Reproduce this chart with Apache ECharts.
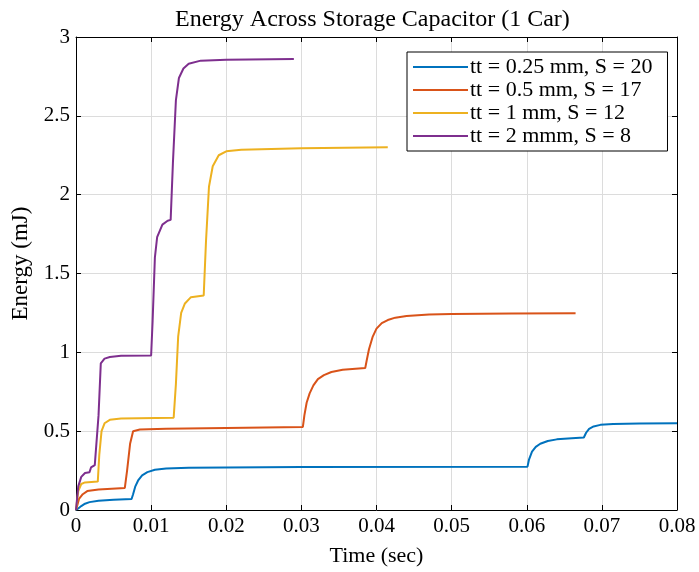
<!DOCTYPE html>
<html>
<head>
<meta charset="utf-8">
<script src="https://cdn.jsdelivr.net/npm/echarts@6/dist/echarts.min.js"></script>
<style>
  html,body{margin:0;padding:0;background:#fff}
  #chart{width:699px;height:572px}
</style>
</head>
<body>
<div id="chart"></div>
<script>
// legend names and colours (MATLAB default order)
var seriesNames = ['tt = 0.25 mm, S = 20', 'tt = 0.5 mm, S = 17', 'tt = 1 mm, S = 12', 'tt = 2 mmm, S = 8'];
var seriesColors = ['#0072BD', '#D95319', '#EDB120', '#7E2F8E'];

// [time (sec), energy (mJ)]
var blue = [[0,0],[0.0003,0.01],[0.0007,0.025],[0.0012,0.04],[0.0018,0.05],[0.003,0.058],[0.005,0.065],[0.0074,0.07],[0.0076,0.1],[0.0079,0.15],[0.0083,0.19],[0.0088,0.22],[0.0095,0.24],[0.0105,0.255],[0.012,0.263],[0.015,0.268],[0.03,0.273],[0.0601,0.275],[0.0603,0.32],[0.0607,0.37],[0.0612,0.4],[0.0618,0.42],[0.0628,0.438],[0.064,0.448],[0.066,0.455],[0.0676,0.46],[0.0679,0.49],[0.0683,0.515],[0.0689,0.53],[0.0698,0.54],[0.0715,0.545],[0.075,0.549],[0.08,0.55]];
var orange = [[0,0],[0.0004,0.07],[0.0009,0.1],[0.0015,0.12],[0.003,0.13],[0.0065,0.14],[0.0068,0.25],[0.0072,0.42],[0.0076,0.5],[0.0085,0.51],[0.012,0.515],[0.02,0.52],[0.0302,0.527],[0.0304,0.6],[0.0307,0.68],[0.0311,0.74],[0.0316,0.79],[0.0322,0.83],[0.033,0.855],[0.034,0.875],[0.0355,0.89],[0.0385,0.9],[0.0387,0.95],[0.039,1.02],[0.0395,1.1],[0.04,1.15],[0.0407,1.185],[0.0415,1.205],[0.0425,1.22],[0.044,1.23],[0.047,1.24],[0.05,1.243],[0.058,1.246],[0.0665,1.248]];
var yellow = [[0,0],[0.0003,0.12],[0.0007,0.165],[0.0012,0.175],[0.0029,0.18],[0.0031,0.35],[0.0034,0.5],[0.0038,0.55],[0.0045,0.572],[0.006,0.58],[0.013,0.585],[0.0133,0.8],[0.0136,1.1],[0.014,1.25],[0.0145,1.31],[0.0153,1.35],[0.017,1.36],[0.0173,1.7],[0.0177,2.05],[0.0182,2.18],[0.019,2.25],[0.02,2.275],[0.022,2.285],[0.03,2.295],[0.0415,2.3]];
var purple = [[0,0],[0.0003,0.15],[0.0007,0.21],[0.0012,0.235],[0.0018,0.24],[0.002,0.27],[0.0025,0.285],[0.0027,0.29],[0.003,0.6],[0.0033,0.93],[0.0038,0.96],[0.0045,0.97],[0.006,0.978],[0.01,0.98],[0.0102,1.2],[0.0105,1.6],[0.0108,1.73],[0.0115,1.81],[0.0122,1.835],[0.0126,1.84],[0.0129,2.2],[0.0133,2.6],[0.0137,2.74],[0.0143,2.8],[0.015,2.83],[0.0166,2.85],[0.02,2.855],[0.029,2.86]];

var allData = [blue, orange, yellow, purple];
var font = 'Liberation Serif';

var chart = echarts.init(document.getElementById('chart'));

var axisCommon = {
  axisLine: {show: true, onZero: false, lineStyle: {color: '#000', width: 1}},
  axisTick: {show: true, inside: true, length: 5, lineStyle: {color: '#000'}}
};

chart.setOption({
  animation: false,
  title: {
    text: 'Energy Across Storage Capacitor (1 Car)',
    left: 170, top: 3,
    textStyle: {fontFamily: font, fontSize: 24, fontWeight: 'normal', color: '#000'}
  },
  grid: {left: 76, right: 22, top: 37, bottom: 61},
  legend: {
    orient: 'vertical',
    left: 407, top: 52,
    data: seriesNames,
    itemWidth: 55, itemHeight: 2, itemGap: 1,
    padding: [4, 15, 4, 5],
    borderColor: '#000', borderWidth: 1,
    backgroundColor: '#fff',
    textStyle: {fontFamily: font, fontSize: 22, color: '#000', padding: [0, 0, 0, -3]}
  },
  xAxis: [
    Object.assign({
      type: 'value', min: 0, max: 0.08, interval: 0.01,
      name: 'Time (sec)', nameLocation: 'middle', nameGap: 35,
      nameTextStyle: {fontFamily: font, fontSize: 22, color: '#000'},
      axisLabel: {fontFamily: font, fontSize: 21, color: '#000', margin: 6},
      splitLine: {show: true, lineStyle: {color: '#dcdcdc', width: 1}}
    }, axisCommon),
    Object.assign({
      type: 'value', min: 0, max: 0.08, interval: 0.01, position: 'top',
      axisLabel: {show: false}, splitLine: {show: false}
    }, axisCommon)
  ],
  yAxis: [
    Object.assign({
      type: 'value', min: 0, max: 3, interval: 0.5,
      name: 'Energy (mJ)', nameLocation: 'middle', nameGap: 41,
      nameTextStyle: {fontFamily: font, fontSize: 23, color: '#000', padding: [0, 0, 0, 20]},
      axisLabel: {fontFamily: font, fontSize: 21, color: '#000', margin: 6},
      splitLine: {show: true, lineStyle: {color: '#dcdcdc', width: 1}}
    }, axisCommon),
    Object.assign({
      type: 'value', min: 0, max: 3, interval: 0.5, position: 'right',
      axisLabel: {show: false}, splitLine: {show: false}
    }, axisCommon)
  ],
  series: allData.map(function (d, i) {
    return {
      name: seriesNames[i],
      type: 'line',
      data: d,
      symbol: 'none',
      lineStyle: {color: seriesColors[i], width: 2},
      itemStyle: {color: seriesColors[i]}
    };
  })
});
</script>
</body>
</html>
